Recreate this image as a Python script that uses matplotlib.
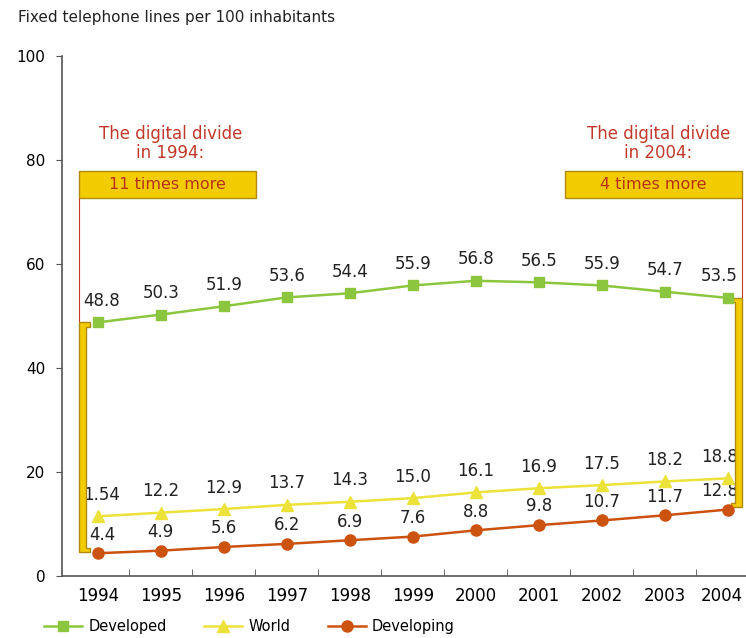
import matplotlib.pyplot as plt
from matplotlib.patches import Rectangle, Polygon
from matplotlib.transforms import ScaledTranslation

years = [1994, 1995, 1996, 1997, 1998, 1999, 2000, 2001, 2002, 2003, 2004]
developed = [48.8, 50.3, 51.9, 53.6, 54.4, 55.9, 56.8, 56.5, 55.9, 54.7, 53.5]
world = [11.5, 12.2, 12.9, 13.7, 14.3, 15.0, 16.1, 16.9, 17.5, 18.2, 18.8]
developing = [4.4, 4.9, 5.6, 6.2, 6.9, 7.6, 8.8, 9.8, 10.7, 11.7, 12.8]
# labels as printed in the source (first world label reads 1.54)
developed_lbl = ["48.8", "50.3", "51.9", "53.6", "54.4", "55.9", "56.8", "56.5", "55.9", "54.7", "53.5"]
world_lbl = ["1.54", "12.2", "12.9", "13.7", "14.3", "15.0", "16.1", "16.9", "17.5", "18.2", "18.8"]
developing_lbl = ["4.4", "4.9", "5.6", "6.2", "6.9", "7.6", "8.8", "9.8", "10.7", "11.7", "12.8"]

GREEN = "#8cc63f"
YELLOW = "#ece23a"
ORANGE = "#cc5210"
BOX = "#f2cc00"
BOXEDGE = "#b08a10"
RED = "#c0392b"
TXT = "#222222"

fig = plt.figure(figsize=(7.46, 6.38), dpi=100)
ax = fig.add_axes([0.083, 0.097, 0.917, 0.815])

ax.plot(years, developed, color=GREEN, marker="s", ms=7, lw=1.8, label="Developed", zorder=4)
ax.plot(years, world, color=YELLOW, marker="^", ms=9, lw=1.8, label="World", zorder=4)
ax.plot(years, developing, color=ORANGE, marker="o", ms=8, lw=1.8, label="Developing", zorder=4)


def shift(i):
    # nudge first / last labels away from the brackets
    if i == 0:
        return 3
    if i == len(years) - 1:
        return -6
    return 0


for i, (x, y, t) in enumerate(zip(years, developed, developed_lbl)):
    ax.annotate(t, (x, y), xytext=(shift(i), 9), textcoords="offset points", ha="center", va="bottom", fontsize=12, color=TXT)
for i, (x, y, t) in enumerate(zip(years, world, world_lbl)):
    ax.annotate(t, (x, y), xytext=(shift(i), 9), textcoords="offset points", ha="center", va="bottom", fontsize=12, color=TXT)
for i, (x, y, t) in enumerate(zip(years, developing, developing_lbl)):
    ax.annotate(t, (x, y), xytext=(shift(i), 7), textcoords="offset points", ha="center", va="bottom", fontsize=12, color=TXT)


def bracket(x0, x1, tab, y0, y1, left=True):
    # "[" or "]" shaped yellow bracket
    if left:
        pts = [(x0, y0), (x1 + tab, y0), (x1 + tab, y0 + 0.8), (x1, y0 + 0.8),
               (x1, y1 - 0.8), (x1 + tab, y1 - 0.8), (x1 + tab, y1), (x0, y1)]
    else:
        pts = [(x1, y0), (x0 - tab, y0), (x0 - tab, y0 + 0.8), (x0, y0 + 0.8),
               (x0, y1 - 0.8), (x0 - tab, y1 - 0.8), (x0 - tab, y1), (x1, y1)]
    ax.add_patch(Polygon(pts, closed=True, facecolor=BOX, edgecolor=BOXEDGE, lw=1, zorder=3))


# left annotation (1994)
bx0, bx1, by0, by1 = 1993.70, 1996.51, 72.7, 77.9
ax.add_patch(Rectangle((bx0, by0), bx1 - bx0, by1 - by0, facecolor=BOX, edgecolor=BOXEDGE, lw=1, zorder=3))
ax.text((bx0 + bx1) / 2, (by0 + by1) / 2, "11 times more", ha="center", va="center", fontsize=11.5, color="#b8321a", zorder=5)
ax.text(1995.15, 83.2, "The digital divide\nin 1994:", ha="center", va="center", fontsize=12, color=RED, linespacing=1.05)
ax.plot([bx0, bx0], [by0, developed[0]], color=RED, lw=0.8, zorder=2)
bracket(1993.70, 1993.81, 0.06, developing[0] + 0.2, developed[0], left=True)

# right annotation (2004)
rx0, rx1 = 2001.41, 2004.22
ax.add_patch(Rectangle((rx0, by0), rx1 - rx0, by1 - by0, facecolor=BOX, edgecolor=BOXEDGE, lw=1, zorder=3))
ax.text((rx0 + rx1) / 2, (by0 + by1) / 2, "4 times more", ha="center", va="center", fontsize=11.5, color="#b8321a", zorder=5)
ax.text(2002.9, 83.2, "The digital divide\nin 2004:", ha="center", va="center", fontsize=12, color=RED, linespacing=1.05)
ax.plot([rx1, rx1], [by0, developed[-1]], color=RED, lw=0.8, zorder=2)
bracket(2004.11, 2004.22, 0.06, developing[-1] + 0.5, developed[-1], left=False)

ax.set_xlim(1993.43, 2004.29)
ax.set_ylim(0, 100)
ax.set_yticks([0, 20, 40, 60, 80, 100])
ax.set_xticks(years)
ax.set_xticks([y + 0.5 for y in years[:-1]], minor=True)
ax.tick_params(axis="x", which="major", length=0, labelsize=12, pad=8)
ax.tick_params(axis="x", which="minor", direction="in", length=5, color="#555555")
ax.tick_params(axis="y", direction="out", length=4, labelsize=11, pad=8, color="#555555")
ax.spines["top"].set_visible(False)
ax.spines["right"].set_visible(False)
ax.spines["left"].set_color("#555555")
ax.spines["bottom"].set_color("#555555")
ax.spines["left"].set_linewidth(1.2)
ax.spines["bottom"].set_linewidth(1.2)

fig.canvas.draw()
last = ax.get_xticklabels()[-1]
last.set_transform(last.get_transform() + ScaledTranslation(-4 / 72, 0, fig.dpi_scale_trans))

fig.text(0.024, 0.972, "Fixed telephone lines per 100 inhabitants", fontsize=11, color=TXT, va="center")

fig.legend(loc="center left", bbox_to_anchor=(0.042, 0.018), ncol=3, frameon=False,
           fontsize=10.5, columnspacing=2.6, handlelength=2.6, handletextpad=0.4)

fig.savefig("out.png", dpi=100)
